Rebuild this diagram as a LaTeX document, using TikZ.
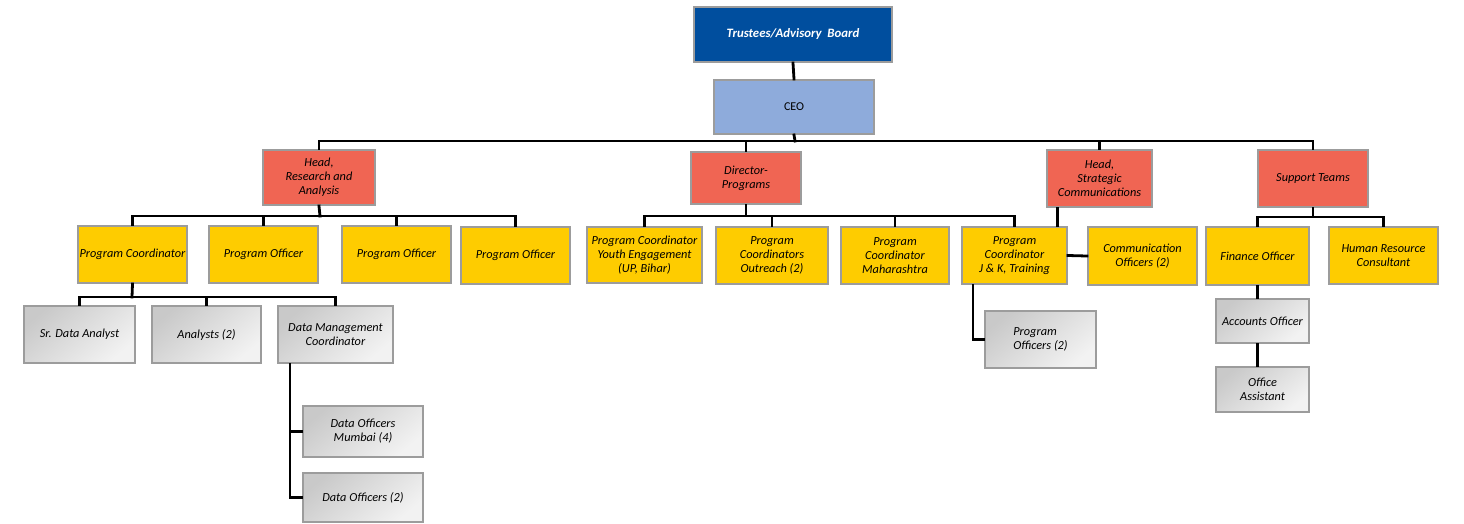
\documentclass[tikz,border=0pt]{standalone}
\usepackage{fontspec}
\setmainfont{Carlito}
\definecolor{tblue}{HTML}{004E9E}
\definecolor{ceoblue}{HTML}{8EABDB}
\definecolor{hred}{HTML}{F06553}
\definecolor{pyel}{HTML}{FECC00}
\definecolor{bord}{HTML}{9C9C9C}
\tikzset{
  box/.style={draw=bord, line width=2pt, inner sep=1pt, align=center,
    font=\fontsize{12.3}{14}\selectfont\itshape, text=black},
  trustbox/.style={box, fill=tblue, text=white, font=\fontsize{12.8}{14}\selectfont\bfseries\itshape},
  ceobox/.style={box, fill=ceoblue, font=\fontsize{12}{14}\selectfont},
  headbox/.style={box, fill=hred},
  yelbox/.style={box, fill=pyel},
  graybox/.style={box, top color=gray!42, bottom color=gray!10, shading angle=40},
  conn/.style={draw=black, line width=2.8pt, line cap=rect},
}
\newcommand{\bx}[7]{% style, name, x1, y1, x2, y2, text
  \node[#1, minimum width={#5-#3}, minimum height={#6-#4}] (#2) at ({(#3+#5)/2},{(#4+#6)/2}) {#7};}
\begin{document}
\begin{tikzpicture}[x=1pt,y=-1pt]
\useasboundingbox (0,0) rectangle (1464,523);
% connectors first (behind boxes)
\coordinate (busA) at (795,141);
\coordinate (busB) at (320,216);
\coordinate (busC) at (746,216);
\coordinate (busD) at (1313,217);
\coordinate (busE) at (132,297);
% nodes
\bx{trustbox}{tru}{694}{7}{892}{62}{Trustees/Advisory\ \ Board}
\bx{ceobox}{ceo}{714}{80}{874}{134}{CEO}
\bx{headbox}{rha}{263}{150}{375}{205}{Head,\\Research and\\Analysis}
\bx{headbox}{dir}{691}{152}{801}{204}{Director-\\Programs}
\bx{headbox}{hsc}{1047}{150}{1152}{207}{Head,\\Strategic\\Communications}
\bx{headbox}{sup}{1258}{150}{1368}{207}{Support Teams}
% R&A children
\bx{yelbox}{pc}{78}{226}{187}{283}{Program Coordinator}
\bx{yelbox}{poa}{209}{226}{318}{283}{Program Officer}
\bx{yelbox}{pob}{342}{226}{451}{283}{Program Officer}
\bx{yelbox}{poc}{461}{227}{570}{284}{Program Officer}
% Director children
\bx{yelbox}{you}{587}{227}{702}{283}{Program Coordinator\\Youth Engagement\\(UP, Bihar)}
\bx{yelbox}{out}{716}{227}{828}{284}{Program\\Coordinators\\Outreach (2)}
\bx{yelbox}{mah}{841}{227}{949}{284}{Program\\Coordinator\\Maharashtra}
\bx{yelbox}{jk}{962}{227}{1067}{284}{Program\\Coordinator\\J \& K, Training}
\bx{yelbox}{com}{1088}{227}{1197}{285}{Communication\\Officers (2)}
% support children
\bx{yelbox}{fin}{1206}{227}{1309}{285}{Finance Officer}
\bx{yelbox}{hr}{1329}{227}{1438}{284}{Human Resource\\Consultant}
\bx{graybox}{acc}{1216}{299}{1309}{343}{Accounts Officer}
\bx{graybox}{off}{1216}{367}{1309}{412}{Office\\Assistant}
\bx{graybox}{pod}{985}{311}{1096}{368}{\begin{tabular}{@{}l@{}}Program\\Officers (2)\end{tabular}}
% PC children
\bx{graybox}{sda}{24}{306}{135}{363}{Sr. Data Analyst}
\bx{graybox}{ana}{152}{306}{261}{363}{Analysts (2)}
\bx{graybox}{dmc}{278}{306}{393}{363}{Data Management\\Coordinator}
\bx{graybox}{dom}{303}{406}{423}{457}{Data Officers\\Mumbai (4)}
\bx{graybox}{dot}{303}{473}{423}{522}{Data Officers (2)}
% connectors
\draw[conn] (tru.south) -- (ceo.north);
\draw[conn] (ceo.south) -- (busA);
\draw[conn] (rha.north) |- (busA) -| (sup.north);
\draw[conn] (dir.north) -- (dir.north |- busA);
\draw[conn] (hsc.north) -- (hsc.north |- busA);
% R&A bus
\draw[conn] (rha.south) -- (busB);
\draw[conn] (pc.north) |- (busB) -| (poc.north);
\draw[conn] (poa.north) -- (poa.north |- busB);
\draw[conn] (pob.north) -- (pob.north |- busB);
% Director bus
\draw[conn] (dir.south) -- (busC);
\draw[conn] (you.north) |- (busC) -| (jk.north);
\draw[conn] (out.north) -- (out.north |- busC);
\draw[conn] (mah.north) -- (mah.north |- busC);
% Head SC to J&K and comm
\draw[conn] ([xshift=-42pt]hsc.south) -- ([xshift=-42pt]hsc.south |- jk.north);
\draw[conn] (jk.east) -- (com.west);
\draw[conn] ([xshift=-41.5pt]jk.south) |- (pod.west);
% Support bus
\draw[conn] (sup.south) -- (busD);
\draw[conn] (fin.north) |- (busD) -| (hr.north);
\draw[conn] (fin.south) -- (fin.south |- acc.north);
\draw[conn] (fin.south |- acc.south) -- (fin.south |- off.north);
% PC bus
\draw[conn] (pc.south) -- (busE);
\draw[conn] (sda.north) |- (busE) -| (dmc.north);
\draw[conn] (ana.north) -- (ana.north |- busE);
\draw[conn] ([xshift=-45.5pt]dmc.south) |- (dom.west);
\draw[conn] ([xshift=-45.5pt]dmc.south) |- (dot.west);
\end{tikzpicture}
\end{document}
